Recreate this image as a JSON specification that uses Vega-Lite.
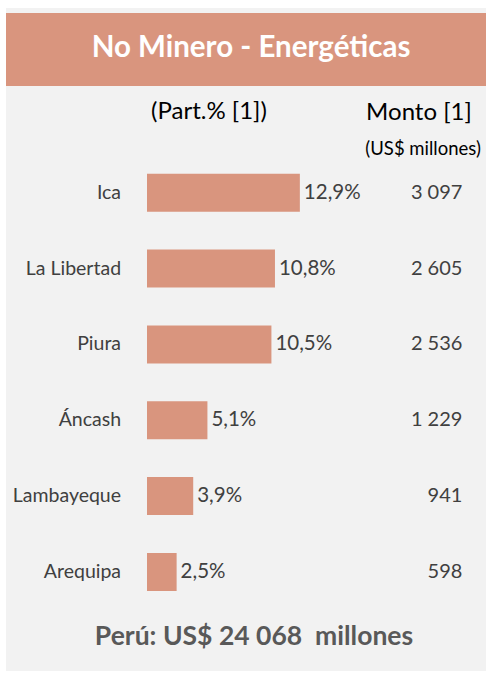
{
  "$schema": "https://vega.github.io/schema/vega-lite/v6.json",
  "width": 480,
  "height": 663,
  "autosize": {"type": "none"},
  "padding": {"left": 6, "top": 8, "right": 0, "bottom": 2},
  "background": "#FFFFFF",
  "config": {
    "view": {"stroke": null, "fill": "#F2F2F2"},
    "font": "Lato",
    "locale": {"number": {"decimal": ",", "thousands": " ", "grouping": [3], "currency": ["US$", ""]}},
    "text": {"font": "Lato"}
  },
  "datasets": {
    "regions": [
      {"region": "Ica", "rank": 1, "share": 0.129, "monto": 3097},
      {"region": "La Libertad", "rank": 2, "share": 0.108, "monto": 2605},
      {"region": "Piura", "rank": 3, "share": 0.105, "monto": 2536},
      {"region": "Áncash", "rank": 4, "share": 0.051, "monto": 1229},
      {"region": "Lambayeque", "rank": 5, "share": 0.039, "monto": 941},
      {"region": "Arequipa", "rank": 6, "share": 0.025, "monto": 598}
    ]
  },
  "layer": [
    {
      "data": {"values": [{"title": "No Minero - Energéticas"}]},
      "mark": {"type": "rect", "color": "#D9957E"},
      "encoding": {
        "x": {"datum": -0.119, "type": "quantitative", "scale": {"domain": [-0.119, 0.2861], "nice": false, "zero": false}, "axis": null},
        "x2": {"datum": 0.2861},
        "y": {"datum": -1.37, "type": "quantitative", "scale": {"domain": [-1.37, 7.24], "nice": false, "zero": false, "reverse": true}, "axis": null},
        "y2": {"datum": -0.409}
      }
    },
    {
      "data": {"values": [{"title": "No Minero - Energéticas"}]},
      "mark": {"type": "text", "color": "#FFFFFF", "fontWeight": "bold", "fontSize": 29.5, "align": "center", "baseline": "middle"},
      "encoding": {
        "x": {"datum": 0.0878, "type": "quantitative"},
        "y": {"datum": -0.91, "type": "quantitative"},
        "text": {"field": "title"}
      }
    },
    {
      "data": {"values": [{"t": "(Part.% [1])"}]},
      "mark": {"type": "text", "color": "#000000", "fontSize": 24, "align": "center", "baseline": "middle"},
      "encoding": {
        "x": {"datum": 0.0523, "type": "quantitative"},
        "y": {"datum": -0.06, "type": "quantitative"},
        "text": {"field": "t"}
      }
    },
    {
      "data": {"values": [{"t": "Monto [1]"}]},
      "mark": {"type": "text", "color": "#000000", "fontSize": 24, "align": "center", "baseline": "middle"},
      "encoding": {
        "x": {"datum": 0.2295, "type": "quantitative"},
        "y": {"datum": -0.05, "type": "quantitative"},
        "text": {"field": "t"}
      }
    },
    {
      "data": {"values": [{"t": "(US$ millones)"}]},
      "mark": {"type": "text", "color": "#000000", "fontSize": 18.5, "align": "center", "baseline": "middle"},
      "encoding": {
        "x": {"datum": 0.233, "type": "quantitative"},
        "y": {"datum": 0.422, "type": "quantitative"},
        "text": {"field": "t"}
      }
    },
    {
      "data": {"name": "regions"},
      "mark": {"type": "bar", "color": "#D9957E", "size": 38, "orient": "horizontal"},
      "encoding": {
        "y": {"field": "rank", "type": "quantitative"},
        "x": {"field": "share", "type": "quantitative"},
        "x2": {"datum": 0}
      }
    },
    {
      "data": {"name": "regions"},
      "mark": {"type": "text", "color": "#404040", "fontSize": 20.5, "align": "left", "baseline": "middle", "dx": 4},
      "encoding": {
        "y": {"field": "rank", "type": "quantitative"},
        "x": {"field": "share", "type": "quantitative"},
        "text": {"field": "share", "type": "quantitative", "format": ".1%"}
      }
    },
    {
      "data": {"name": "regions"},
      "mark": {"type": "text", "color": "#404040", "fontSize": 19.5, "align": "right", "baseline": "middle"},
      "encoding": {
        "y": {"field": "rank", "type": "quantitative"},
        "x": {"datum": -0.0219, "type": "quantitative"},
        "text": {"field": "region"}
      }
    },
    {
      "data": {"name": "regions"},
      "mark": {"type": "text", "color": "#404040", "fontSize": 20, "align": "right", "baseline": "middle"},
      "encoding": {
        "y": {"field": "rank", "type": "quantitative"},
        "x": {"datum": 0.2662, "type": "quantitative"},
        "text": {"field": "monto", "type": "quantitative", "format": ",d"}
      }
    },
    {
      "data": {"values": [{"t": "Perú: US$ 24 068\u00a0 millones"}]},
      "mark": {"type": "text", "color": "#595959", "fontWeight": "bold", "fontSize": 26.5, "align": "center", "baseline": "middle"},
      "encoding": {
        "x": {"datum": 0.0903, "type": "quantitative"},
        "y": {"datum": 6.86, "type": "quantitative"},
        "text": {"field": "t"}
      }
    }
  ]
}
